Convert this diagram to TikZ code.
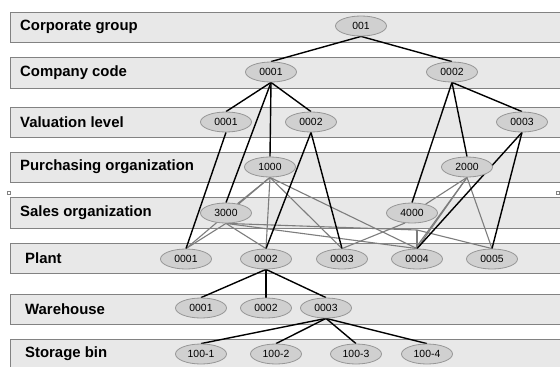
\documentclass[tikz,border=0pt]{standalone}
\usepackage{fontspec}
\setmainfont{Liberation Sans}
\usetikzlibrary{shapes.geometric}
\definecolor{bandfill}{RGB}{232,232,232}
\definecolor{bandline}{RGB}{130,130,130}
\definecolor{ellfill}{RGB}{208,208,208}
\definecolor{ellline}{RGB}{150,150,150}
\definecolor{grayedge}{RGB}{125,125,125}
\pgfdeclarelayer{bg}
\pgfdeclarelayer{edges}
\pgfsetlayers{bg,edges,main}
\begin{document}
\begin{tikzpicture}[x=1pt,y=-1pt,
  band/.style={fill=bandfill,draw=bandline,line width=1pt},
  lbl/.style={anchor=west,inner sep=0pt,font=\fontsize{14.9}{16}\selectfont\bfseries},
  org/.style={ellipse,fill=ellfill,draw=ellline,line width=0.8pt,minimum width=51pt,minimum height=20pt,inner sep=0pt,font=\fontsize{10.4}{12}\selectfont},
  blk/.style={draw=black,line width=1.4pt},
  gry/.style={draw=grayedge,line width=1.1pt},
  handle/.style={draw=bandline,line width=0.6pt,fill=white}]
\useasboundingbox (0,0) rectangle (560,367);
\begin{pgfonlayer}{bg}
  \fill[white] (0,0) rectangle (560,367);
  \draw[band] (10,12) rectangle (575,42);
  \draw[band] (10,57) rectangle (575,88);
  \draw[band] (10,107) rectangle (575,137);
  \draw[band] (10,152) rectangle (575,182);
  \draw[band] (10,197) rectangle (575,228);
  \draw[band] (10,243) rectangle (575,273);
  \draw[band] (10,294) rectangle (575,324);
  \draw[band] (10,339) rectangle (575,380);
  \draw[handle] (7,191) rectangle (10,194);
  \draw[handle] (556,191) rectangle (559,194);
\end{pgfonlayer}
% labels
\node[lbl] (lcg) at (20,27) {Corporate group};
\node[lbl] (lcc) at (20,72.5) {Company code};
\node[lbl] (lvl) at (20,122) {Valuation level};
\node[lbl] (lpo) at (20,167) {Purchasing organization};
\node[lbl] (lso) at (20,212.5) {Sales organization};
\node[lbl] (lpl) at (25,258) {Plant};
\node[lbl] (lwh) at (25,309) {Warehouse};
\node[lbl] (lsb) at (25,354) {Storage bin};
% org units
\node[org] (cg) at (361,26) {001};
\node[org] (cc1) at (271,72) {0001};
\node[org] (cc2) at (452,72) {0002};
\node[org] (vl1) at (226,122) {0001};
\node[org] (vl2) at (311,122) {0002};
\node[org] (vl3) at (522,122) {0003};
\node[org] (po1) at (270,167) {1000};
\node[org] (po2) at (467,167) {2000};
\node[org] (so1) at (226,213) {3000};
\node[org] (so2) at (412,213) {4000};
\node[org] (p1) at (186,259) {0001};
\node[org] (p2) at (266,259) {0002};
\node[org] (p3) at (342,259) {0003};
\node[org] (p4) at (417,259) {0004};
\node[org] (p5) at (492,259) {0005};
\node[org] (w1) at (201,308) {0001};
\node[org] (w2) at (266,308) {0002};
\node[org] (w3) at (326,308) {0003};
\node[org] (s1) at (201,354) {100-1};
\node[org] (s2) at (276,354) {100-2};
\node[org] (s3) at (356,354) {100-3};
\node[org] (s4) at (427,354) {100-4};
\coordinate (kink) at (417,230);
\begin{pgfonlayer}{edges}
  % gray assignments
  \draw[gry] (po1.south) -- (so1);
  \draw[gry] (po1.south) -- (p1.north);
  \draw[gry] (po1.south) -- (p2.north);
  \draw[gry] (po1.south) -- (p3.north);
  \draw[gry] (po1.south) -- (p4.north);
  \draw[gry] (so1.south) -- (p1.north);
  \draw[gry] (so1.south) -- (p2.north);
  \draw[gry] (so1.south) -- (p4.north);
  \draw[gry] (so1.south) -- (kink) -- (p5.north);
  \draw[gry] (kink) -- (p4.north);
  \draw[gry] (po2.south) -- (so2);
  \draw[gry] (po2.south) -- (p4.north);
  \draw[gry] (po2.south) -- (p4.100);
  \draw[gry] (po2.south) -- (p5.north);
  \draw[gry] (so2.235) -- (p3.north);
  % black assignments
  \draw[blk] (cg.south) -- (cc1.north);
  \draw[blk] (cg.south) -- (cc2.north);
  \draw[blk] (cc1.south) -- (vl1.north);
  \draw[blk] (cc1.south) -- (vl2.north);
  \draw[blk] (cc1.south) -- (po1.north);
  \draw[blk] (cc1.south) -- (so1.north);
  \draw[blk] (cc2.south) -- (vl3.north);
  \draw[blk] (cc2.south) -- (po2.north);
  \draw[blk] (cc2.south) -- (so2.north);
  \draw[blk] (vl1.south) -- (p1.north);
  \draw[blk] (vl2.south) -- (p2.north);
  \draw[blk] (vl2.south) -- (p3.north);
  \draw[blk] (vl3.south) -- (p4.north);
  \draw[blk] (vl3.south) -- (p5.north);
  \draw[blk] (p2.south) -- (w1.north);
  \draw[blk] (p2.south) -- (w2.north);
  \draw[blk] (p2.south) -- (w3.north);
  \draw[blk] (w3.south) -- (s1.north);
  \draw[blk] (w3.south) -- (s2.north);
  \draw[blk] (w3.south) -- (s3.north);
  \draw[blk] (w3.south) -- (s4.north);
\end{pgfonlayer}
\end{tikzpicture}
\end{document}
